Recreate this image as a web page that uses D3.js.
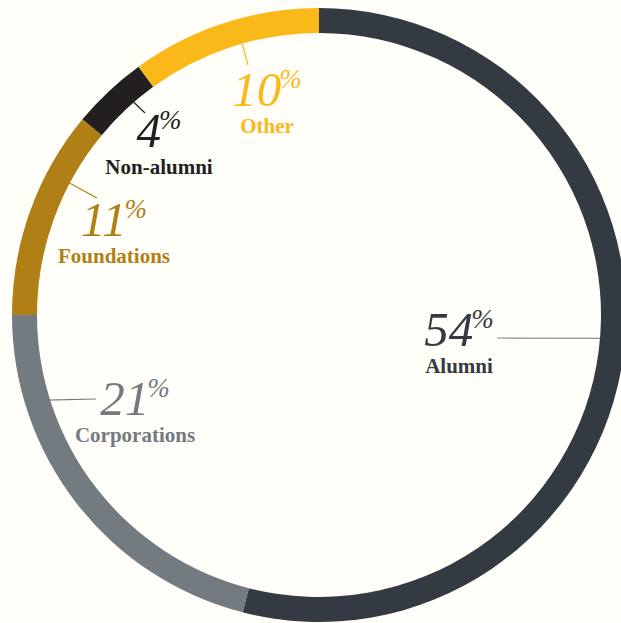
<!DOCTYPE html>
<html>
<head>
<meta charset="utf-8">
<script src="https://cdn.jsdelivr.net/npm/d3@7"></script>
<style>
  html, body { margin: 0; padding: 0; background: #fffef9; }
  #chart { width: 621px; height: 623px; }
</style>
</head>
<body>
<div id="chart"></div>
<script>
// giving by source, clockwise from the top
const categories = ['Alumni', 'Corporations', 'Foundations', 'Non-alumni', 'Other'];
const shares     = [54, 21, 11, 4, 10];
const colors     = ['#333a42', '#747b80', '#b08016', '#231f20', '#fbb919'];
const lineColors = ['#8c9094', '#747b80', '#b08016', '#231f20', '#fbb919'];

// label placement: centre x, number baseline, leader start angle (deg), leader end
const labelLayout = [
  { x: 459, y: 346, angle: 94.7,  end: [497, 338] },
  { x: 135, y: 415, angle: 252.7, end: [96, 399] },
  { x: 114, y: 236, angle: 297.9, end: [97, 198] },
  { x: 159, y: 147, angle: 318.9, end: [145, 113] },
  { x: 267, y: 106, angle: 344.2, end: [248, 65] }
];

const width = 621, height = 623;
const cx = 319, cy = 315;
const outerR = 307, innerR = 282;

const svg = d3.select('#chart')
  .append('svg')
  .attr('width', width)
  .attr('height', height);

const data = categories.map((name, i) => ({ name, value: shares[i], color: colors[i] }));

const pie = d3.pie().value(d => d.value).sort(null);
const arc = d3.arc().innerRadius(innerR).outerRadius(outerR);

const g = svg.append('g').attr('transform', `translate(${cx},${cy})`);

// leader lines first so the ring sits over their ends
labelLayout.forEach((l, i) => {
  const a = l.angle * Math.PI / 180;
  g.append('line')
    .attr('x1', Math.sin(a) * (innerR + 4))
    .attr('y1', -Math.cos(a) * (innerR + 4))
    .attr('x2', l.end[0] - cx)
    .attr('y2', l.end[1] - cy)
    .attr('stroke', lineColors[i])
    .attr('stroke-width', 1.2);
});

g.selectAll('path')
  .data(pie(data))
  .join('path')
  .attr('d', arc)
  .attr('fill', d => d.data.color);

const labels = svg.selectAll('g.label')
  .data(data)
  .join('g')
  .attr('class', 'label')
  .attr('transform', (d, i) => `translate(${labelLayout[i].x},${labelLayout[i].y})`);

const num = labels.append('text')
  .attr('text-anchor', 'middle')
  .attr('fill', d => d.color)
  .style('font-family', '"Liberation Serif", "DejaVu Serif", serif')
  .style('font-style', 'italic');

num.append('tspan')
  .style('font-size', '49px')
  .text(d => d.value);

num.append('tspan')
  .attr('dx', -2)
  .attr('dy', -18)
  .style('font-size', '27px')
  .text('%');

labels.append('text')
  .attr('y', 26.5)
  .attr('text-anchor', 'middle')
  .attr('fill', d => d.color)
  .style('font-family', '"Liberation Serif", "DejaVu Serif", serif')
  .style('font-size', '21px')
  .style('font-weight', '700')
  .text(d => d.name);
</script>
</body>
</html>
